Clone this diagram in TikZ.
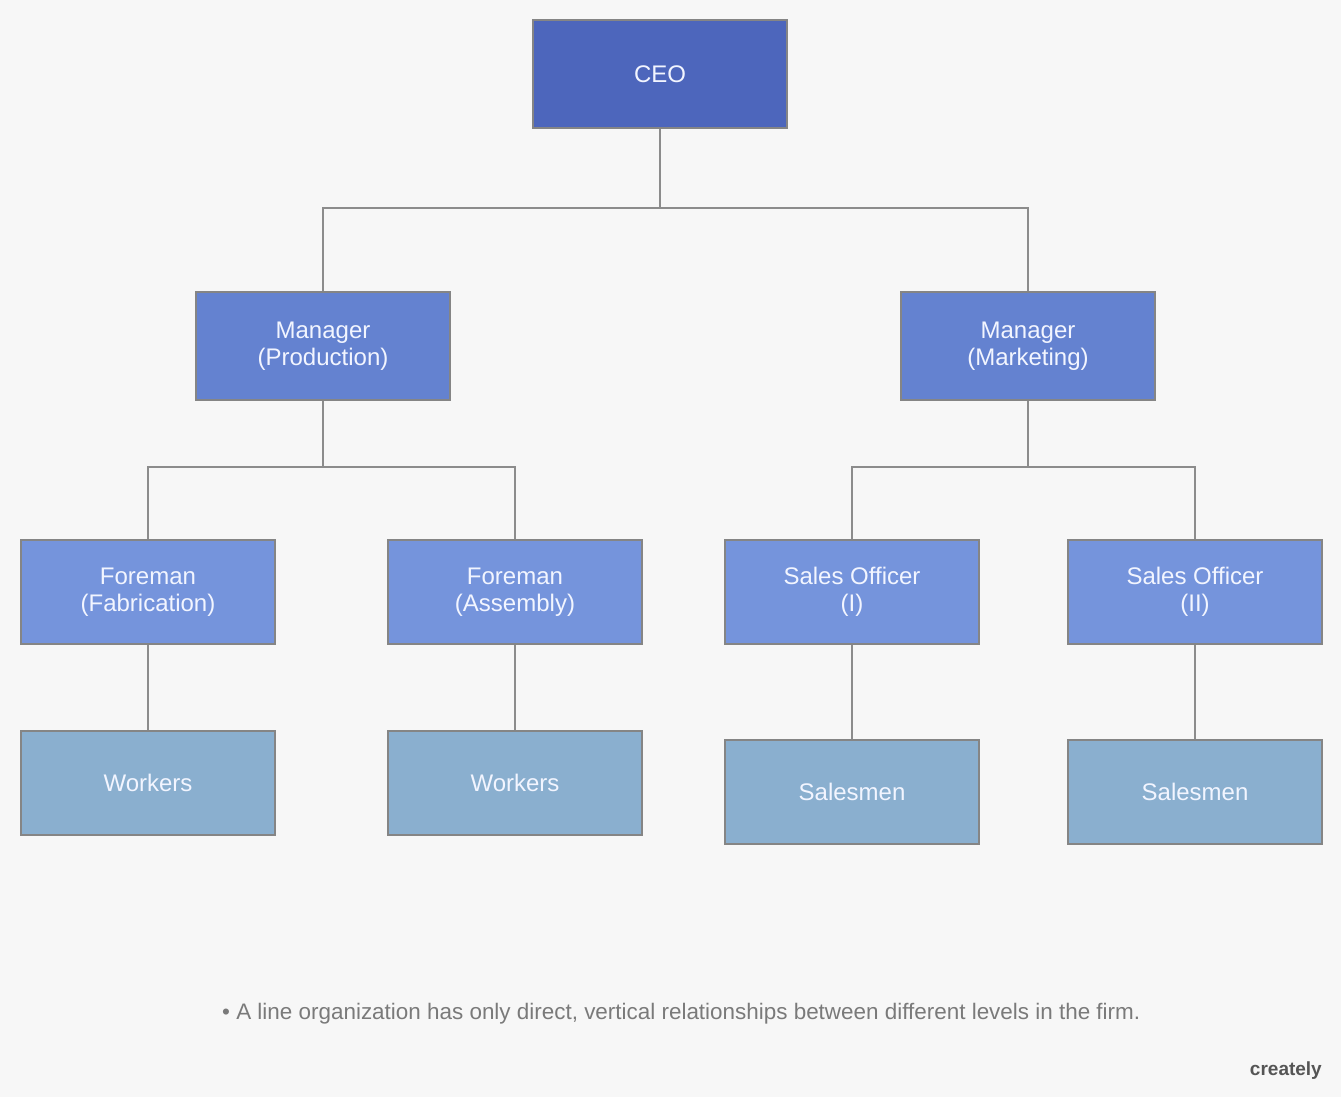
\documentclass[tikz,border=0pt]{standalone}
\usepackage{fontspec}
\setmainfont{Liberation Sans}
\definecolor{bgc}{HTML}{F7F7F7}
\definecolor{ceoc}{HTML}{4D66BC}
\definecolor{mgrc}{HTML}{6482D0}
\definecolor{forc}{HTML}{7594DC}
\definecolor{wrkc}{HTML}{8AAFCF}
\definecolor{linec}{HTML}{8C8C8C}
\definecolor{edgec}{HTML}{858585}
\definecolor{txtc}{HTML}{F2F5FF}
\definecolor{footc}{HTML}{7A7A7A}
\begin{document}
\begin{tikzpicture}[x=1pt,y=-1pt,
  orgbox/.style={draw=edgec, line width=2.5pt, text=txtc, align=center, inner sep=0pt,
    font=\fontsize{24}{27}\selectfont},
  big/.style={orgbox, minimum width=254pt, minimum height=108pt},
  mid/.style={orgbox, minimum width=254pt, minimum height=104pt},
  conn/.style={draw=linec, line width=2.5pt}]
\fill[bgc] (0,0) rectangle (1341,1097);
\useasboundingbox (0,0) rectangle (1341,1097);

\node[big, fill=ceoc] (ceo) at (660,74) {CEO};
\node[big, fill=mgrc] (mp) at (323,346) {Manager\\(Production)};
\node[big, fill=mgrc] (mm) at (1028,346) {Manager\\(Marketing)};

\node[mid, fill=forc] (f1) at (148,592) {Foreman\\(Fabrication)};
\node[mid, fill=forc] (f2) at (515,592) {Foreman\\(Assembly)};
\node[mid, fill=forc] (s1) at (852,592) {Sales Officer\\(I)};
\node[mid, fill=forc] (s2) at (1195,592) {Sales Officer\\(II)};

\node[mid, fill=wrkc] (w1) at (148,783) {Workers};
\node[mid, fill=wrkc] (w2) at (515,783) {Workers};
\node[mid, fill=wrkc] (m1) at (852,792) {Salesmen};
\node[mid, fill=wrkc] (m2) at (1195,792) {Salesmen};

\coordinate (j0) at (660,208);
\coordinate (j1) at (323,467);
\coordinate (j2) at (1028,467);

\draw[conn] (ceo.south) -- (j0);
\draw[conn] (mp.north) |- (j0) -| (mm.north);
\draw[conn] (mp.south) -- (j1);
\draw[conn] (f1.north) |- (j1) -| (f2.north);
\draw[conn] (mm.south) -- (j2);
\draw[conn] (s1.north) |- (j2) -| (s2.north);
\draw[conn] (f1.south) -- (w1.north);
\draw[conn] (f2.south) -- (w2.north);
\draw[conn] (s1.south) -- (m1.north);
\draw[conn] (s2.south) -- (m2.north);

\node[text=footc, anchor=west, inner sep=0pt, font=\fontsize{15}{18}\selectfont] (foot) at (222,1014)
  {\resizebox{918pt}{!}{\textbullet\ A line organization has only direct, vertical relationships between different levels in the firm.}};
\node[text=footc!70!black, anchor=east, inner sep=0pt, font=\fontsize{19}{22}\selectfont\bfseries] (logo) at (1322,1071) {creately};
\end{tikzpicture}
\end{document}
